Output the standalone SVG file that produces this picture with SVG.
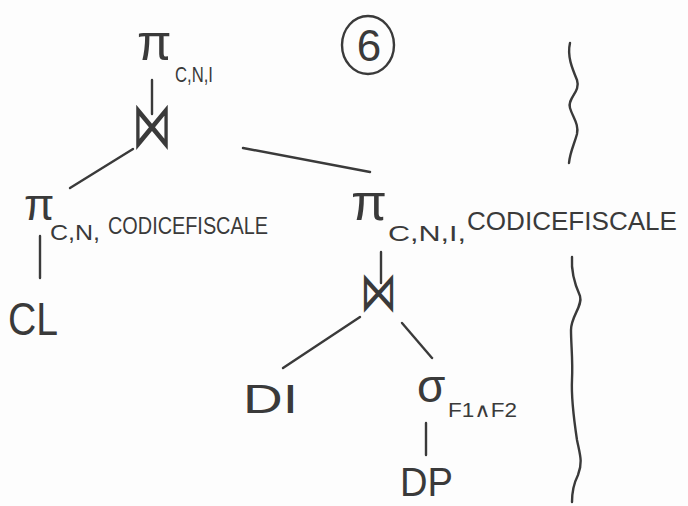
<svg xmlns="http://www.w3.org/2000/svg" width="688" height="506" viewBox="0 0 688 506">
  <style>
    .ink { fill: #3a3a3a; font-family: "Liberation Sans", "DejaVu Sans", sans-serif; }
    .sym { fill: #3a3a3a; font-family: "DejaVu Sans", sans-serif; }
    .edge { stroke: #3a3a3a; stroke-width: 2.4; fill: none; stroke-linecap: round; stroke-linejoin: round; }
  </style>
  <rect width="688" height="506" fill="#fdfdfd"/>

  <!-- connectors -->
  <g id="connectors">
    <path class="edge" d="M152 80 L152 114"/>
    <path class="edge" d="M133 149 L70 188"/>
    <path class="edge" d="M243 148 L370 172"/>
    <path class="edge" d="M40 236 L40 278"/>
    <path class="edge" d="M381 252 L381 283"/>
    <path class="edge" d="M360 317 L283 368"/>
    <path class="edge" d="M402 323 L432 358"/>
    <path class="edge" d="M426 423 L426 455"/>
  </g>

  <!-- wavy separators on the right -->
  <g id="separators">
    <path class="edge" d="M570 43 C567 56 572 68 577 80 C581 92 567 98 570 108 C573 118 579 124 577 134 C574 145 570 152 569 163"/>
    <path class="edge" d="M572 257 C571 272 575 285 580 296 C583 306 571 316 571 330 C571 345 573 360 572 380 C571 400 574 420 577 440 C580 455 583 462 578 475 C573 485 572 492 572 502"/>
  </g>

  <g id="proj-top">
    <text class="ink" x="137" y="60" font-size="50">π</text>
    <text class="ink" x="175" y="82" font-size="22" textLength="38" lengthAdjust="spacingAndGlyphs">C,N,I</text>
  </g>

  <g id="label-6">
    <ellipse cx="368" cy="45" rx="26" ry="29" fill="none" stroke="#3a3a3a" stroke-width="2.4"/>
    <text class="ink" x="369" y="61" font-size="44" text-anchor="middle">6</text>
  </g>

  <g id="join-top" transform="translate(132 148) scale(1 1.5)">
    <text class="sym" x="0" y="0" font-size="44" textLength="40" lengthAdjust="spacingAndGlyphs">⋈</text>
  </g>

  <g id="proj-left">
    <text class="ink" x="24" y="220" font-size="44">π</text>
    <text class="ink" x="50" y="240" font-size="22" textLength="50" lengthAdjust="spacingAndGlyphs">C,N,</text>
    <text class="ink" x="108" y="234" font-size="24" textLength="160" lengthAdjust="spacingAndGlyphs">CODICEFISCALE</text>
  </g>

  <g id="rel-cl">
    <text class="ink" x="8" y="335" font-size="46" textLength="50" lengthAdjust="spacingAndGlyphs">CL</text>
  </g>

  <g id="proj-right">
    <text class="ink" x="351" y="220" font-size="52">π</text>
    <text class="ink" x="388" y="241" font-size="22" textLength="78" lengthAdjust="spacingAndGlyphs">C,N,I,</text>
    <text class="ink" x="467" y="230" font-size="26" textLength="210" lengthAdjust="spacingAndGlyphs">CODICEFISCALE</text>
  </g>

  <g id="join-right" transform="translate(360 311) scale(1 1.4)">
    <text class="sym" x="0" y="0" font-size="40" textLength="37" lengthAdjust="spacingAndGlyphs">⋈</text>
  </g>

  <g id="rel-di">
    <text class="ink" x="243" y="413" font-size="41" textLength="55" lengthAdjust="spacingAndGlyphs">DI</text>
  </g>

  <g id="select">
    <text class="ink" x="417" y="402" font-size="46">σ</text>
    <text class="ink" x="448" y="417" font-size="20" textLength="69" lengthAdjust="spacingAndGlyphs">F1∧F2</text>
  </g>

  <g id="rel-dp">
    <text class="ink" x="400" y="496" font-size="40" textLength="53" lengthAdjust="spacingAndGlyphs">DP</text>
  </g>
</svg>
